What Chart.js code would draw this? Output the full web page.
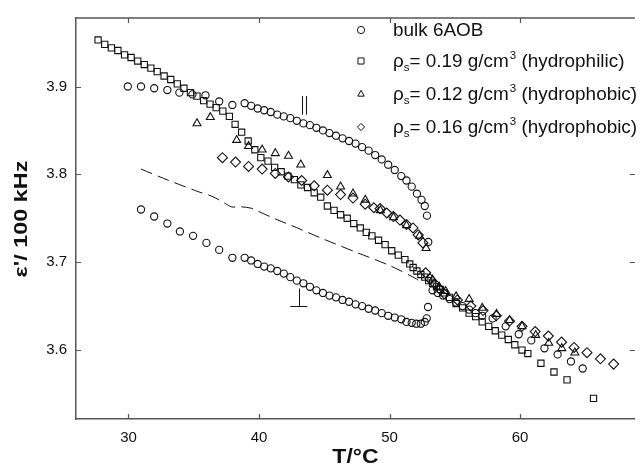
<!DOCTYPE html>
<html>
<head>
<meta charset="utf-8">
<script src="https://cdn.jsdelivr.net/npm/chart.js@4.4.1/dist/chart.umd.min.js"></script>
<style>
  html, body { margin: 0; padding: 0; background: #fff; }
  #wrap { width: 641px; height: 467px; }
</style>
</head>
<body>
<div id="wrap"><canvas id="chart" width="641" height="467"></canvas></div>
<script>
  // bulk 6AOB: parallel branch, perpendicular branch, isotropic phase
  const bulkT = [
    29.95, 30.96, 31.97, 32.98, 33.9, 34.9, 35.9, 36.95, 37.96, 38.9, 39.4, 39.9, 40.4, 40.9, 41.4,
    41.9, 42.4, 42.9, 43.4, 43.9, 44.4, 44.9, 45.4, 45.9, 46.4, 46.9, 47.4, 47.9, 48.4, 48.9, 49.4,
    49.9, 50.4, 50.9, 51.3, 51.7, 52.1, 52.45, 52.7, 52.87, 52.97,
    30.96, 31.97, 32.98, 33.94, 34.95, 35.97, 36.95, 37.96, 38.9, 39.4, 39.9, 40.4, 40.9, 41.4,
    41.9, 42.4, 42.9, 43.4, 43.9, 44.4, 44.9, 45.4, 45.9, 46.4, 46.9, 47.4, 47.9, 48.4, 48.9, 49.4,
    49.9, 50.4, 50.9, 51.3, 51.7, 52.05, 52.4, 52.7, 52.85,
    52.95, 53.3, 53.7, 54.1, 54.6, 55.1, 55.6, 56.1, 56.6, 57.1, 57.9, 58.9, 59.9, 60.86, 61.87,
    62.88, 63.9, 64.8
  ];
  const bulkEps = [
    3.900, 3.900, 3.898, 3.896, 3.893, 3.891, 3.890, 3.883, 3.879, 3.881, 3.878, 3.875, 3.873, 3.871, 3.868,
    3.866, 3.864, 3.861, 3.858, 3.856, 3.853, 3.850, 3.847, 3.844, 3.841, 3.838, 3.835, 3.831, 3.827, 3.822, 3.817,
    3.811, 3.805, 3.798, 3.793, 3.786, 3.778, 3.771, 3.764, 3.753, 3.723,
    3.760, 3.752, 3.744, 3.735, 3.730, 3.722, 3.714, 3.705, 3.705, 3.702, 3.698, 3.695, 3.693, 3.690,
    3.687, 3.683, 3.679, 3.676, 3.672, 3.668, 3.665, 3.662, 3.660, 3.657, 3.655, 3.652, 3.650, 3.647, 3.645, 3.642,
    3.639, 3.637, 3.635, 3.632, 3.631, 3.630, 3.630, 3.632, 3.636,
    3.649, 3.668, 3.665, 3.662, 3.658, 3.654, 3.650, 3.646, 3.642, 3.639, 3.636, 3.627, 3.618, 3.611, 3.602,
    3.595, 3.587, 3.579
  ];

  // rho_s = 0.19 g/cm3 (hydrophilic)
  const hydrophilicT = [
    27.67, 28.18, 28.69, 29.19, 29.7, 30.2, 30.71, 31.21, 31.72, 32.2, 32.73, 33.24, 33.74, 34.25, 34.75,
    35.25, 35.76, 36.25, 36.72, 37.23, 37.73, 38.17, 38.67, 39.17, 39.68, 40.14, 40.69, 41.2, 41.7, 42.21,
    42.71, 43.21, 43.72, 44.23, 44.73, 45.24, 45.75, 46.25, 46.76, 47.26, 47.76, 48.22, 48.65, 49.16, 49.66,
    50.17, 50.67, 51.18, 51.55, 51.81, 52.1, 52.4, 52.7, 53.0, 53.3, 53.6, 53.9, 54.2, 54.6, 55.1,
    55.6, 56.1, 56.6, 57.1, 57.6, 58.1, 58.6, 59.1, 59.6, 60.15, 60.6, 61.6, 62.6, 63.6, 65.63
  ];
  const hydrophilicEps = [
    3.953, 3.948, 3.944, 3.941, 3.936, 3.933, 3.929, 3.925, 3.921, 3.917, 3.912, 3.908, 3.903, 3.898, 3.893,
    3.889, 3.884, 3.880, 3.876, 3.872, 3.866, 3.857, 3.848, 3.838, 3.828, 3.819, 3.815, 3.808, 3.803, 3.798,
    3.794, 3.788, 3.785, 3.779, 3.774, 3.764, 3.759, 3.754, 3.750, 3.744, 3.739, 3.734, 3.730, 3.725, 3.720,
    3.713, 3.708, 3.703, 3.698, 3.694, 3.690, 3.686, 3.683, 3.679, 3.676, 3.672, 3.669, 3.665, 3.660, 3.653,
    3.648, 3.642, 3.638, 3.632, 3.627, 3.622, 3.617, 3.612, 3.606, 3.600, 3.596, 3.585, 3.575, 3.566, 3.545
  ];

  // rho_s = 0.12 g/cm3 (hydrophobic)
  const hydrophobic12T = [
    35.25, 36.27, 38.29, 39.2, 40.24, 41.25, 42.26, 43.2, 45.24, 46.25, 47.2, 48.14, 49.3, 50.3, 51.3,
    52.3, 52.8, 53.3, 53.8, 54.3, 55.1, 56.1, 57.1, 58.2, 59.2, 60.15, 61.2, 62.2, 63.2, 64.2
  ];
  const hydrophobic12Eps = [
    3.858, 3.865, 3.839, 3.832, 3.828, 3.824, 3.821, 3.811, 3.799, 3.786, 3.778, 3.771, 3.759, 3.751, 3.742,
    3.730, 3.716, 3.680, 3.672, 3.667, 3.661, 3.658, 3.648, 3.641, 3.634, 3.627, 3.617, 3.608, 3.602, 3.597
  ];

  // rho_s = 0.16 g/cm3 (hydrophobic)
  const hydrophobic16T = [
    37.2, 38.2, 39.2, 40.24, 41.25, 42.26, 43.27, 44.23, 45.24, 46.25, 47.2, 48.14, 48.8, 49.28, 49.79,
    50.3, 50.8, 51.3, 51.8, 52.2, 52.56, 52.77, 53.1, 53.5, 53.8, 54.2, 55.2, 56.23, 57.17, 58.18,
    59.19, 60.15, 61.16, 62.17, 63.18, 64.14, 65.13, 66.16, 67.17
  ];
  const hydrophobic16Eps = [
    3.819, 3.814, 3.809, 3.806, 3.801, 3.797, 3.793, 3.787, 3.782, 3.777, 3.773, 3.766, 3.762, 3.761, 3.756,
    3.752, 3.748, 3.743, 3.739, 3.731, 3.722, 3.688, 3.681, 3.675, 3.670, 3.664, 3.657, 3.650, 3.645, 3.639,
    3.633, 3.627, 3.621, 3.616, 3.609, 3.603, 3.597, 3.590, 3.584
  ];

  // dashed curve
  const dashT = [30.96, 33.1, 35.4, 36.4, 37.4, 37.9, 38.67, 39.4, 39.93, 41.45, 42.46, 44.99, 47.5, 50.04, 52.06, 52.3];
  const dashEps = [3.806, 3.793, 3.780, 3.775, 3.767, 3.763, 3.763, 3.7615, 3.758, 3.748, 3.742, 3.726, 3.711, 3.696, 3.681, 3.678];

  const xTicks = [30, 40, 50, 60];
  const yTicks = [3.6, 3.7, 3.8, 3.9];

  const legendLabels = [
    { style: 'circle', pre: 'bulk 6AOB' },
    { style: 'rect', pre: '0.19', post: ' (hydrophilic)' },
    { style: 'triangle', pre: '0.12', post: ' (hydrophobic)' },
    { style: 'rectRot', pre: '0.16', post: ' (hydrophobic)' }
  ];

  const INK = '#111';
  const AXIS = '#555';
  const FONT = '"Liberation Sans", Arial, Helvetica, sans-serif';

  function pts(xs, ys) {
    return xs.map((x, i) => ({ x: x, y: ys[i] }));
  }

  function markerSet(label, xs, ys, style, radius) {
    return {
      label: label,
      data: pts(xs, ys),
      showLine: false,
      pointStyle: style,
      pointRadius: radius,
      pointHoverRadius: radius,
      pointBorderWidth: 1.1,
      pointBorderColor: INK,
      pointBackgroundColor: 'rgba(255,255,255,0)'
    };
  }

  function drawSymbol(ctx, style, x, y, r) {
    ctx.beginPath();
    if (style === 'circle') {
      ctx.arc(x, y, r, 0, Math.PI * 2);
    } else if (style === 'rect') {
      ctx.rect(x - r * 0.8, y - r * 0.8, r * 1.6, r * 1.6);
    } else if (style === 'triangle') {
      ctx.moveTo(x, y - r);
      ctx.lineTo(x + r * 0.9, y + r * 0.6);
      ctx.lineTo(x - r * 0.9, y + r * 0.6);
      ctx.closePath();
    } else {
      ctx.moveTo(x, y - r);
      ctx.lineTo(x + r, y);
      ctx.lineTo(x, y + r);
      ctx.lineTo(x - r, y);
      ctx.closePath();
    }
    ctx.stroke();
  }

  const framePlugin = {
    id: 'frame',
    afterDatasetsDraw(chart) {
      const { ctx, chartArea: a, scales } = chart;
      const xs = scales.x;
      const ys = scales.y;
      ctx.save();

      // top frame line
      ctx.strokeStyle = AXIS;
      ctx.lineWidth = 1.5;
      ctx.beginPath();
      ctx.moveTo(a.left, a.top);
      ctx.lineTo(a.right, a.top);
      ctx.stroke();

      // inward tick marks on all four sides
      ctx.lineWidth = 1.2;
      ctx.beginPath();
      xTicks.forEach((v) => {
        const px = Math.round(xs.getPixelForValue(v)) + 0.5;
        ctx.moveTo(px, a.bottom);
        ctx.lineTo(px, a.bottom - 5);
        ctx.moveTo(px, a.top);
        ctx.lineTo(px, a.top + 5);
      });
      yTicks.forEach((v) => {
        const py = Math.round(ys.getPixelForValue(v)) + 0.5;
        ctx.moveTo(a.left, py);
        ctx.lineTo(a.left + 5, py);
        ctx.moveTo(a.right, py);
        ctx.lineTo(a.right - 5, py);
      });
      ctx.stroke();

      // phase annotations: parallel and perpendicular marks
      ctx.strokeStyle = INK;
      ctx.lineWidth = 1;
      ctx.beginPath();
      [43.27, 43.57].forEach((t) => {
        const px = Math.round(xs.getPixelForValue(t)) + 0.5;
        ctx.moveTo(px, ys.getPixelForValue(3.889));
        ctx.lineTo(px, ys.getPixelForValue(3.868));
      });
      const perpX = Math.round(xs.getPixelForValue(43.05)) + 0.5;
      const perpY = Math.round(ys.getPixelForValue(3.650)) + 0.5;
      ctx.moveTo(perpX, ys.getPixelForValue(3.670));
      ctx.lineTo(perpX, perpY);
      ctx.moveTo(xs.getPixelForValue(42.4), perpY);
      ctx.lineTo(xs.getPixelForValue(43.7), perpY);
      ctx.stroke();

      // axis titles
      ctx.fillStyle = INK;
      ctx.textAlign = 'center';
      ctx.textBaseline = 'middle';
      ctx.save();
      ctx.translate((a.left + a.right) / 2, 457);
      ctx.scale(1.15, 1);
      ctx.font = 'bold 20px ' + FONT;
      ctx.fillText('T/°C', 0, 0);
      ctx.restore();

      ctx.save();
      ctx.translate(22, 219);
      ctx.rotate(-Math.PI / 2);
      ctx.scale(1.3, 1);
      ctx.font = 'bold 18px ' + FONT;
      ctx.fillText('ε\'/ 100 kHz', 0, 0);
      ctx.restore();

      // legend
      ctx.strokeStyle = INK;
      ctx.lineWidth = 1;
      ctx.textAlign = 'left';
      ctx.textBaseline = 'alphabetic';
      const rowY = [30, 61, 94, 127];
      legendLabels.forEach((item, i) => {
        const y = rowY[i];
        drawSymbol(ctx, item.style, 361, y, item.style === 'rect' ? 3.8 : 3.6);
        ctx.save();
        ctx.translate(393, y + 6);
        ctx.scale(1.05, 1);
        let x = 0;
        ctx.font = '18px ' + FONT;
        if (!item.post) {
          ctx.fillText(item.pre, x, 0);
        } else {
          ctx.fillText('ρ', x, 0);
          x += ctx.measureText('ρ').width;
          ctx.font = '11px ' + FONT;
          ctx.fillText('s', x, 4);
          x += ctx.measureText('s').width;
          ctx.font = '18px ' + FONT;
          const mid = '= ' + item.pre + ' g/cm';
          ctx.fillText(mid, x, 0);
          x += ctx.measureText(mid).width;
          ctx.font = '11px ' + FONT;
          ctx.fillText('3', x + 1, -8);
          x += ctx.measureText('3').width + 1;
          ctx.font = '18px ' + FONT;
          ctx.fillText(item.post, x, 0);
        }
        ctx.restore();
      });

      ctx.restore();
    }
  };

  new Chart(document.getElementById('chart').getContext('2d'), {
    type: 'scatter',
    data: {
      datasets: [
        {
          label: 'dashed',
          data: pts(dashT, dashEps),
          showLine: true,
          borderColor: INK,
          borderWidth: 1,
          borderDash: [12, 6],
          pointRadius: 0,
          tension: 0.3,
          fill: false
        },
        markerSet('bulk 6AOB', bulkT, bulkEps, 'circle', 3.6),
        markerSet('0.19 g/cm3 (hydrophilic)', hydrophilicT, hydrophilicEps, 'rect', 4.4),
        markerSet('0.12 g/cm3 (hydrophobic)', hydrophobic12T, hydrophobic12Eps, 'triangle', 4.6),
        markerSet('0.16 g/cm3 (hydrophobic)', hydrophobic16T, hydrophobic16Eps, 'rectRot', 5)
      ]
    },
    options: {
      responsive: false,
      animation: false,
      layout: {
        padding: { top: 12, right: 0, bottom: 0, left: 0 }
      },
      plugins: {
        legend: { display: false },
        tooltip: { enabled: false }
      },
      scales: {
        x: {
          type: 'linear',
          min: 25.98,
          max: 68.8,
          afterFit(scale) { scale.height = 48; },
          afterBuildTicks(scale) { scale.ticks = xTicks.map((v) => ({ value: v })); },
          grid: { display: false, drawTicks: false },
          border: { display: true, color: AXIS, width: 1.5 },
          ticks: {
            padding: 10,
            color: INK,
            font: { family: FONT, size: 15 },
            callback: (v) => String(v)
          }
        },
        y: {
          type: 'linear',
          min: 3.5215,
          max: 3.978,
          afterFit(scale) { scale.width = 76; },
          afterBuildTicks(scale) { scale.ticks = yTicks.map((v) => ({ value: v })); },
          grid: { display: false, drawTicks: false },
          border: { display: true, color: AXIS, width: 1.5 },
          ticks: {
            padding: 9,
            color: INK,
            font: { family: FONT, size: 15 },
            callback: (v) => v.toFixed(1)
          }
        }
      }
    },
    plugins: [framePlugin]
  });
</script>
</body>
</html>
